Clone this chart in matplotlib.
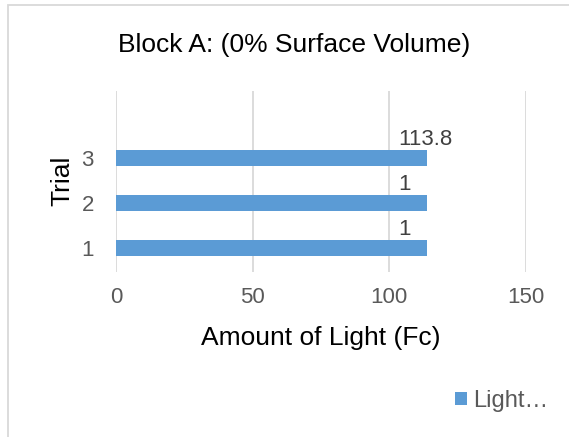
import matplotlib.pyplot as plt
from matplotlib.patches import Rectangle

# Data
trials = [1, 2, 3]
light = [113.8, 113.8, 113.8]
bar_labels = ['1', '1', '113.8']   # labels as shown (truncated in the original)

plt.rcParams['font.family'] = ['Liberation Sans', 'DejaVu Sans']

W, H = 569, 437
fig = plt.figure(figsize=(W / 100, H / 100), dpi=100)

# light gray chart border
fig.patches.append(Rectangle((8 / W, -0.1), 1.2, 1 - 5 / H + 0.1, transform=fig.transFigure,
                             fill=False, edgecolor='#d9d9d9', linewidth=1.3))

ax = fig.add_axes([116 / W, 1 - 272 / H, (526 - 116) / W, (272 - 91) / H])
bars = ax.barh(trials, light, height=0.34, color='#5b9bd5', label='Light\u2026', zorder=3)

ax.set_xlim(0, 150)
ax.set_ylim(0.47, 4.49)
ax.set_xticks([0, 50, 100, 150])
ax.set_yticks(trials)
ax.grid(axis='x', color='#d9d9d9', linewidth=1.3, zorder=0)
for s in ax.spines.values():
    s.set_visible(False)
ax.tick_params(length=0, labelsize=16, labelcolor='#595959')
ax.tick_params(axis='x', pad=11)
ax.tick_params(axis='y', pad=16)

for b, lab in zip(bars, bar_labels):
    ax.annotate(lab, (b.get_width(), b.get_y() + b.get_height() / 2),
                xytext=(-29, 19), textcoords='offset pixels',
                ha='left', va='center', fontsize=16, color='#404040')

ax.set_xlabel('Amount of Light (Fc)', fontsize=19, color='black')
ax.xaxis.set_label_coords(321 / W, 1 - 345 / H, transform=fig.transFigure)
ax.xaxis.label.set_va('baseline')
ax.set_ylabel('Trial', fontsize=19, color='black')
ax.yaxis.set_label_coords(69 / W, 1 - 181 / H, transform=fig.transFigure)
ax.yaxis.label.set_va('baseline')

fig.text(294 / W, 1 - 52 / H, 'Block A: (0% Surface Volume)', ha='center', va='baseline',
         fontsize=19, color='black')

ax.legend(loc='center left', bbox_to_anchor=(455 / W, 1 - 401 / H), bbox_transform=fig.transFigure,
          frameon=False, fontsize=17, labelcolor='#595959', handlelength=0.5,
          handleheight=0.5, handletextpad=0.25, borderpad=0, borderaxespad=0)

fig.savefig('out.png', dpi=100)
